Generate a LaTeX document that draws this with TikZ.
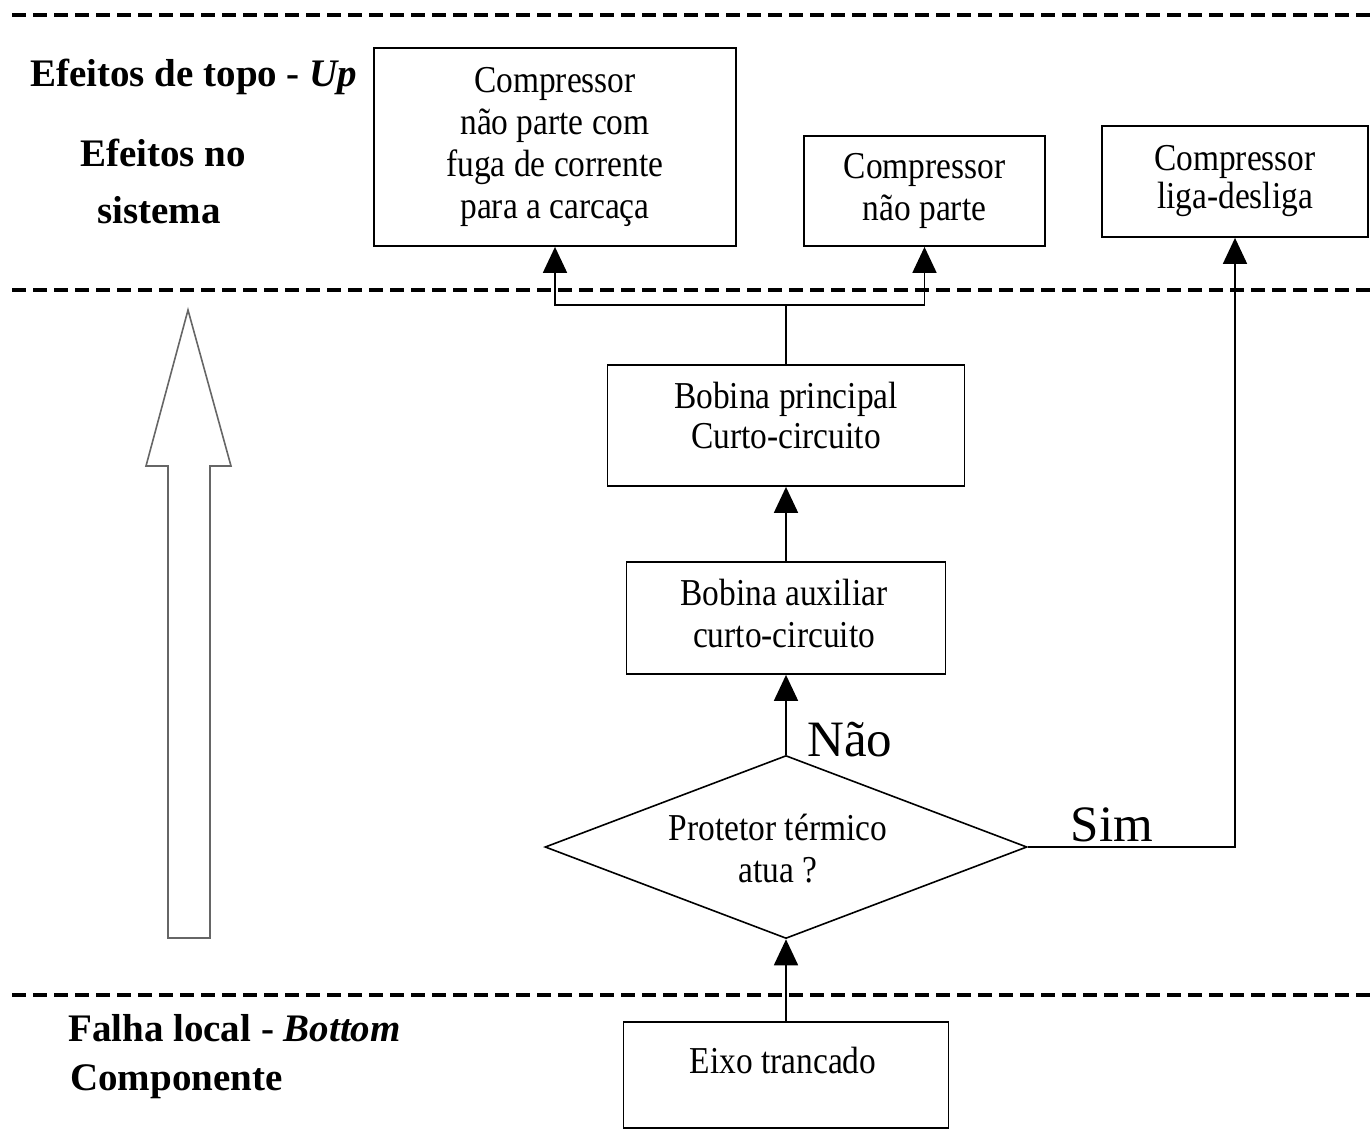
\documentclass[tikz,border=0pt]{standalone}
\usepackage{fontspec}
\setmainfont{Liberation Serif}
\newfontfamily\boxfont{Liberation Serif}[FakeStretch=0.88]
\usetikzlibrary{arrows.meta,shapes.geometric}

\begin{document}
\begin{tikzpicture}[x=1pt,y=-1pt,
  box/.style={draw,line width=1.8pt,align=center,inner sep=0pt,
    font=\boxfont\fontsize{38}{42}\selectfont},
  txt/.style={align=center,inner sep=0pt,font=\boxfont\fontsize{38}{42}\selectfont},
  sep/.style={line width=3.2pt,dash pattern=on 14pt off 7pt},
  flow/.style={line width=1.8pt,-{Triangle[length=26pt,width=24pt]}},
  lbl/.style={font=\bfseries\fontsize{39}{44}\selectfont,anchor=west,inner sep=0pt},
  yn/.style={font=\fontsize{51}{56}\selectfont,inner sep=0pt}]
\useasboundingbox (0,0) rectangle (1371,1148);

% level separators
\draw[sep] (12,15) -- (1371,15);
\draw[sep] (12,290) -- (1371,290);
\draw[sep] (12,995) -- (1371,995);

% level labels
\node[lbl] (lvtop) at (30,77) {Efeitos de topo - \textit{Up}};
\node[lbl] (lvsys1) at (80,153) {Efeitos no};
\node[lbl] (lvsys2) at (97,210) {sistema};
\node[lbl] (lvbot) at (68,1028) {Falha local - \textit{Bottom}};
\node[lbl] (lvcomp) at (70,1082) {Componente};

% hollow upward arrow
\draw[black!60,line width=1.6pt,line join=miter]
  (168,938) -- (168,466) -- (146,466) -- (188,310) -- (231,466)
  -- (210,466) -- (210,938) -- cycle;

% top effects
\node[box,minimum width=362pt,minimum height=198pt] (top1) at (555,147)
  {Compressor\\não parte com\\fuga de corrente\\para a carcaça};
\node[box,minimum width=241pt,minimum height=110pt] (top2) at (924.5,191)
  {Compressor\\não parte};
\node[box,minimum width=266pt,minimum height=111pt] (top3) at (1235,181.5)
  {Compressor\\[-4pt]liga-desliga};

% intermediate failures
\node[box,minimum width=357pt,minimum height=121pt] (main) at (786,425.5) {};
\node[txt] (maintxt) at (786,415) {Bobina principal\\[-2pt]Curto-circuito};
\node[box,minimum width=319pt,minimum height=112pt] (aux) at (786,618) {};
\node[txt] (auxtxt) at (784,613) {Bobina auxiliar\\curto-circuito};

% decision
\node[draw,shape=diamond,line width=1.6pt,aspect=2.634,inner sep=0pt,
  minimum width=482pt,minimum height=183pt] (dec) at (786,847) {};
\node[txt] (dectxt) at (778,849) {Protetor térmico\\atua ?};

% local failure
\node[box,minimum width=325pt,minimum height=106pt] (eixo) at (786,1075) {};
\node[txt] (eixotxt) at (783,1060) {Eixo trancado};

% branch labels
\node[yn] (nao) at (850,740) {Não};
\node[yn] (sim) at (1112,825) {Sim};

% connectors
\coordinate (split) at (786,305);
\draw[line width=1.8pt] (main.north) -- (split);
\draw[flow] (split) -| (top1.south);
\draw[flow] (split) -| (top2.south);
\draw[flow] (aux.north) -- (main.south);
\draw[flow] (dec.north) -- (aux.south);
\draw[flow] (eixo.north) -- (dec.south);
\draw[flow] (dec.east) -| (top3.south);
\end{tikzpicture}
\end{document}
